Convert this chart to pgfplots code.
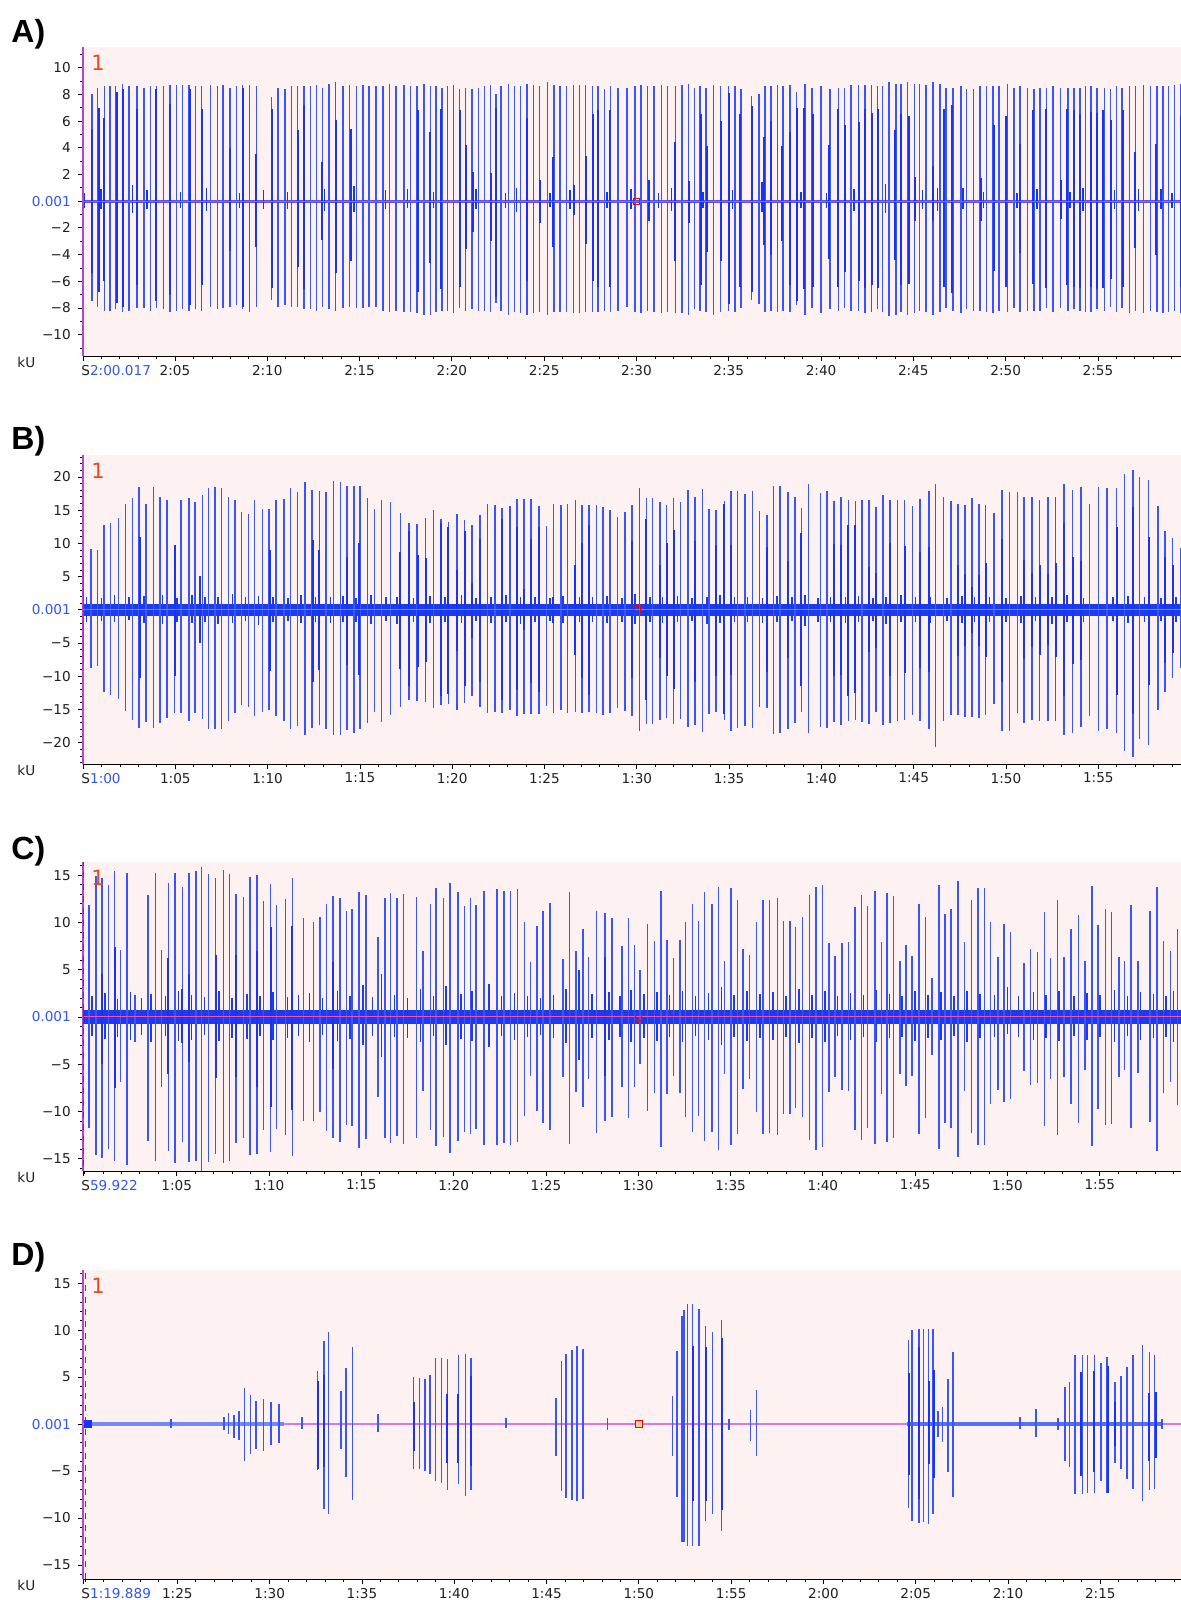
\documentclass[border=0pt]{standalone}
\usepackage{pgfplots}
\pgfplotsset{compat=1.18}
\usepackage{pgfplotstable}
\usepackage{fontspec}
\setmainfont{DejaVu Sans}
\newfontfamily\labfont{Liberation Sans}
\definecolor{pinkbg}{RGB}{253,241,241}
\definecolor{spikeT}{RGB}{55,85,250}
\definecolor{spikeD}{RGB}{22,52,242}
\definecolor{bandblue}{RGB}{28,58,238}
\definecolor{baseA}{RGB}{105,75,232}
\definecolor{magline}{RGB}{250,80,170}
\definecolor{onecol}{RGB}{240,70,30}
\definecolor{zeroblue}{RGB}{45,85,255}
\definecolor{axpurple}{RGB}{175,70,205}
\definecolor{baseD}{RGB}{215,120,230}

% ---------------- Panel A ----------------
\pgfplotstableread{
t hi lo
120.51 8.0 -7.5
120.80 8.5 -7.9
121.18 8.6 -8.2
121.49 8.6 -8.2
121.79 8.6 -8.1
122.15 8.8 -8.3
122.51 8.6 -8.2
122.93 8.6 -8.0
123.32 8.5 -8.0
123.68 8.6 -8.2
124.01 8.6 -8.0
124.37 8.6 -8.1
124.73 8.7 -8.3
125.09 8.7 -8.2
125.41 8.7 -8.1
125.76 8.7 -8.2
126.10 8.6 -8.1
126.44 8.6 -8.2
126.93 8.7 -7.9
127.29 8.6 -8.1
127.61 8.7 -8.0
127.97 8.5 -7.9
128.33 8.6 -7.8
128.66 8.7 -8.1
129.05 8.7 -8.3
129.41 8.6 -7.9
130.23 7.8 -7.4
130.59 8.5 -7.9
130.95 8.4 -7.8
131.31 8.6 -7.9
131.63 8.6 -7.9
131.99 8.6 -8.1
132.33 8.6 -8.1
132.66 8.7 -8.2
132.98 8.5 -7.9
133.34 8.8 -8.1
133.70 8.9 -8.2
134.10 8.6 -8.0
134.46 8.7 -7.9
134.82 8.6 -8.0
135.18 8.7 -8.0
135.50 8.6 -7.9
135.90 8.6 -7.9
136.26 8.6 -8.2
136.62 8.8 -8.3
136.98 8.6 -8.2
137.41 8.7 -8.3
137.77 8.6 -8.3
138.11 8.6 -8.4
138.49 8.8 -8.5
138.83 8.6 -8.5
139.15 8.6 -8.3
139.46 8.5 -8.2
139.75 8.6 -8.2
140.09 8.7 -8.4
140.41 8.4 -8.0
140.74 8.5 -8.2
141.10 8.4 -8.1
141.44 8.5 -8.2
141.76 8.6 -8.2
142.09 8.7 -8.3
142.39 8.0 -7.6
142.66 8.6 -8.2
143.08 8.8 -8.5
143.38 8.6 -8.3
143.71 8.6 -8.4
144.06 8.8 -8.5
144.42 8.7 -8.4
144.75 8.6 -8.3
145.18 8.9 -8.5
145.54 8.7 -8.3
145.86 8.6 -8.3
146.21 8.6 -8.3
146.58 8.7 -8.4
146.92 8.7 -8.4
147.25 8.7 -8.3
147.61 8.6 -8.3
147.91 8.6 -8.3
148.27 8.4 -8.2
148.60 8.6 -8.3
148.99 8.5 -8.2
149.50 8.5 -7.9
149.91 8.6 -8.3
150.25 8.7 -8.4
150.61 8.6 -8.2
150.94 8.6 -8.3
151.35 8.7 -8.4
151.69 8.6 -8.3
152.12 8.6 -8.4
152.46 8.7 -8.4
152.81 8.8 -8.5
153.15 8.5 -8.1
153.45 8.6 -8.2
153.78 8.5 -8.3
154.17 8.7 -8.5
154.55 8.6 -8.3
154.98 8.6 -8.2
155.34 8.6 -8.3
155.65 8.4 -8.0
156.24 7.9 -7.4
156.65 8.0 -7.7
156.96 8.6 -8.3
157.28 8.6 -8.2
157.64 8.7 -8.3
157.95 8.6 -8.2
158.31 8.7 -8.3
158.67 8.2 -7.8
159.14 8.8 -8.5
159.51 8.5 -8.0
160.00 8.6 -8.4
160.49 8.4 -8.1
160.94 8.5 -8.2
161.26 8.5 -8.0
161.62 8.7 -8.2
162.02 8.7 -8.2
162.38 8.7 -8.4
162.74 8.7 -8.3
163.06 8.6 -8.1
163.33 8.6 -8.3
163.69 8.9 -8.6
164.05 8.8 -8.5
164.32 8.8 -8.3
164.68 8.9 -8.5
165.05 8.8 -8.4
165.33 8.8 -8.2
165.68 8.7 -8.3
166.07 8.9 -8.5
166.43 8.8 -8.3
166.76 8.5 -8.0
167.15 8.5 -8.2
167.57 8.6 -8.4
167.89 8.4 -8.1
168.25 8.4 -8.2
168.61 8.6 -8.2
168.95 8.6 -8.3
169.32 8.6 -8.4
169.64 8.6 -8.2
170.09 8.8 -8.3
170.45 8.5 -8.0
170.77 8.6 -8.3
171.17 8.5 -8.2
171.53 8.4 -8.2
171.86 8.5 -8.2
172.22 8.5 -8.0
172.56 8.6 -8.3
172.97 8.5 -8.0
173.37 8.5 -8.2
173.69 8.5 -8.1
174.02 8.5 -8.2
174.32 8.6 -8.3
174.63 8.6 -8.3
174.95 8.5 -8.1
175.35 8.5 -8.2
175.68 8.4 -7.9
176.00 8.6 -8.3
176.31 8.5 -8.0
176.72 8.6 -8.4
177.03 8.6 -8.2
177.48 8.7 -8.4
177.84 8.6 -8.2
178.20 8.6 -8.3
178.52 8.6 -8.4
178.83 8.6 -8.3
179.14 8.7 -8.2
179.46 8.8 -8.4
}\Atall

\pgfplotstableread{
t hi lo
120.53 5.4 -5.4
120.87 7.0 -6.8
121.13 6.2 -6.0
121.85 8.2 -7.6
122.21 8.4 -7.9
122.96 6.9 -6.3
123.97 8.4 -7.5
124.75 7.3 -7.0
125.81 8.4 -7.8
126.46 6.9 -6.3
127.99 4.0 -3.7
128.69 8.5 -7.9
129.39 3.5 -3.4
130.28 6.9 -6.5
131.65 5.3 -4.9
132.01 7.2 -6.6
132.96 2.9 -2.9
133.72 6.1 -5.4
134.51 5.4 -4.5
138.17 6.8 -6.8
138.79 5.2 -4.6
139.42 6.9 -6.6
140.43 6.8 -6.4
140.76 4.2 -3.6
141.12 2.2 -2.3
142.12 2.1 -3.0
142.41 7.0 -7.2
144.08 6.2 -6.0
144.78 1.6 -1.6
145.50 3.3 -3.4
146.62 1.2 -1.0
147.27 3.4 -3.2
147.63 6.5 -6.0
147.93 6.8 -6.4
148.56 6.8 -6.4
150.67 1.6 -1.5
152.10 4.4 -4.5
152.82 1.5 -1.6
153.47 6.5 -6.3
153.80 4.1 -3.8
154.57 6.0 -4.5
155.00 8.1 -7.7
155.61 6.5 -6.4
156.26 7.1 -6.8
156.92 4.8 -3.3
157.30 6.0 -4.0
157.86 4.1 -3.0
158.31 5.2 -6.3
158.69 7.0 -7.5
159.10 7.0 -6.6
159.55 6.5 -6.4
160.45 4.2 -4.3
160.92 6.9 -6.4
161.28 5.7 -5.3
162.04 5.9 -6.0
162.36 6.9 -6.5
162.76 6.6 -6.3
163.08 6.9 -6.5
164.02 5.3 -4.4
164.34 6.5 -6.3
164.74 6.4 -6.2
165.07 1.8 -1.5
166.09 2.6 -1.5
166.67 6.9 -6.4
167.12 7.2 -6.9
168.65 1.7 -1.5
169.37 5.7 -5.2
170.02 6.4 -6.4
170.79 4.3 -3.9
171.49 6.8 -6.2
172.16 6.9 -6.5
172.99 1.6 -1.3
173.30 6.9 -6.3
173.71 6.8 -6.4
174.04 6.5 -6.5
174.65 6.7 -6.4
174.97 6.6 -6.6
175.28 6.8 -6.5
175.70 6.1 -5.8
176.33 6.8 -6.4
176.99 3.7 -3.5
178.14 4.3 -4.0
179.48 6.4 -6.4
}\Ashort

\pgfplotstableread{
t hi lo
120.10 0.6 -0.5
121.00 0.9 -0.6
122.70 1.2 -0.9
123.50 0.8 -0.6
125.30 0.7 -0.5
126.70 1.0 -0.7
128.50 0.6 -0.5
129.80 0.8 -0.6
131.10 0.7 -0.6
133.10 0.9 -0.7
134.70 1.1 -0.8
136.40 0.8 -0.6
137.60 0.9 -0.5
139.00 0.7 -0.5
141.30 0.9 -0.6
142.90 0.6 -0.5
143.50 1.0 -0.8
145.30 0.6 -0.4
146.40 0.8 -0.6
148.40 0.7 -0.5
149.70 0.9 -0.6
151.20 0.6 -0.5
151.90 1.0 -0.7
153.60 0.7 -0.5
155.20 0.8 -0.6
156.80 1.4 -0.8
158.90 0.7 -0.5
160.30 0.6 -0.5
161.80 0.9 -0.7
163.50 1.3 -0.9
165.50 0.8 -0.6
166.30 1.0 -0.7
167.70 1.0 -0.6
168.80 0.7 -0.5
170.60 0.6 -0.5
171.70 0.9 -0.6
173.50 0.7 -0.5
174.20 1.0 -0.7
175.90 0.8 -0.6
177.20 0.9 -0.7
178.40 0.9 -0.6
179.00 0.6 -0.5
}\Asmall

% ---------------- Panel B ----------------
\pgfplotstableread{
t hi lo
60.04 7.5 -8.0
60.42 9.2 -8.7
60.79 9.0 -8.5
61.15 12.8 -12.3
61.50 13.0 -12.8
61.92 13.8 -13.4
62.29 15.9 -15.2
62.67 16.9 -16.6
63.02 18.5 -17.8
63.42 15.9 -16.9
63.81 18.5 -17.8
64.17 17.0 -17.0
64.54 16.6 -16.3
64.96 9.8 -15.5
65.31 16.5 -15.5
65.73 16.8 -16.8
66.08 16.2 -15.5
66.46 17.3 -16.5
66.81 18.3 -18.0
67.15 18.5 -18.0
67.50 18.3 -18.0
67.88 17.0 -16.8
68.23 16.5 -15.5
68.58 14.7 -14.3
68.96 14.4 -14.6
69.29 16.5 -16.0
69.71 15.2 -15.3
70.08 15.2 -15.0
70.46 16.5 -16.0
70.88 16.7 -16.8
71.25 18.3 -18.0
71.63 17.8 -17.5
72.02 19.3 -18.9
72.40 18.1 -17.8
72.81 17.9 -17.4
73.17 17.8 -18.0
73.58 19.4 -18.8
73.96 19.3 -18.9
74.31 18.6 -18.1
74.69 18.6 -18.6
75.00 18.6 -18.0
75.42 16.8 -17.0
75.79 15.2 -15.3
76.17 16.6 -16.9
76.67 16.3 -15.8
77.19 14.6 -14.6
77.67 13.0 -13.5
78.10 12.9 -13.7
78.56 13.8 -13.9
79.00 15.0 -14.8
79.38 13.7 -14.3
79.79 13.2 -14.1
80.25 14.4 -15.0
80.67 13.5 -14.0
81.08 12.8 -13.0
81.50 14.2 -14.6
81.92 15.9 -15.5
82.33 15.8 -15.4
82.71 15.3 -15.5
83.13 15.7 -15.0
83.50 16.7 -16.0
83.90 16.7 -15.7
84.27 16.7 -15.7
84.69 15.7 -15.7
85.10 12.6 -14.5
85.48 15.9 -15.5
85.88 15.8 -15.0
86.25 16.0 -15.5
86.67 16.5 -15.4
87.04 15.8 -15.5
87.40 15.8 -15.4
87.81 15.8 -15.5
88.16 15.5 -15.9
88.54 15.0 -15.5
88.96 14.0 -14.7
89.37 14.7 -15.2
89.75 15.8 -16.0
90.15 18.3 -18.3
90.52 16.8 -17.2
90.86 16.8 -17.2
91.25 16.3 -16.6
91.61 15.8 -16.3
92.00 16.9 -17.2
92.38 16.3 -16.5
92.76 18.0 -17.6
93.15 17.0 -17.3
93.57 18.2 -18.4
93.92 15.1 -15.6
94.28 15.0 -15.4
94.74 16.4 -16.6
95.11 17.9 -18.3
95.45 17.9 -17.8
95.87 17.5 -17.5
96.26 17.9 -17.8
96.64 14.8 -14.6
97.04 14.3 -14.8
97.41 18.6 -18.7
97.77 18.6 -18.6
98.20 17.8 -18.0
98.56 17.0 -17.0
98.91 15.3 -15.4
99.29 18.9 -18.6
99.96 17.6 -17.7
100.29 17.9 -17.8
100.69 16.4 -16.9
101.06 17.0 -17.3
101.46 16.6 -16.7
101.84 16.4 -16.6
102.21 16.5 -16.9
102.57 16.6 -17.2
102.96 15.5 -15.3
103.34 17.3 -17.4
103.72 16.6 -17.0
104.13 16.5 -16.7
104.51 16.5 -16.6
104.93 15.7 -15.9
105.34 16.7 -16.7
105.82 17.9 -18.0
106.18 19.0 -20.6
106.60 17.0 -16.8
107.01 16.4 -15.9
107.39 15.9 -15.9
107.77 15.8 -16.1
108.16 16.9 -16.2
108.54 16.0 -16.3
108.89 15.8 -15.9
109.35 14.5 -14.2
109.79 18.1 -18.2
110.19 17.8 -18.2
110.61 17.7 -15.5
110.98 17.0 -17.0
111.40 17.0 -16.6
111.82 16.6 -16.8
112.28 17.0 -16.8
112.69 17.0 -16.8
113.13 19.0 -18.9
113.61 18.0 -18.5
114.05 18.5 -17.6
114.53 16.0 -16.0
115.01 18.5 -18.2
115.47 18.3 -18.0
115.99 18.3 -18.6
116.43 20.5 -21.3
116.87 21.0 -22.1
117.24 20.0 -19.4
117.72 19.6 -20.4
118.23 15.7 -15.0
118.60 11.9 -12.3
119.02 10.8 -10.2
119.44 9.3 -8.8
}\Btall

\pgfplotstableread{
t hi lo
63.08 10.9 -10.3
64.96 9.7 -9.9
66.35 5.1 -5.0
70.13 9.0 -9.2
72.46 10.5 -10.8
72.81 9.0 -9.0
74.31 8.0 -8.3
74.96 10.0 -9.8
77.19 8.7 -8.9
77.67 11.8 -11.5
78.13 8.3 -8.6
78.56 7.8 -7.9
79.38 13.0 -13.0
79.79 12.5 -12.6
80.25 6.0 -6.2
80.67 11.8 -11.5
81.08 4.0 -4.3
81.50 10.7 -10.9
82.71 13.7 -13.5
83.50 12.5 -12.0
83.90 3.2 -3.0
84.27 10.7 -11.0
84.69 12.5 -12.4
85.48 2.0 -2.0
86.67 6.7 -6.8
87.04 10.0 -10.2
87.40 12.7 -12.8
89.75 10.3 -10.3
90.52 13.6 -13.5
91.25 6.8 -7.2
91.61 10.0 -10.0
92.00 12.0 -11.9
93.15 10.4 -10.8
94.28 9.7 -10.0
94.74 15.9 -15.6
95.11 9.8 -9.8
97.04 9.5 -9.3
98.20 7.3 -7.2
98.91 11.6 -11.5
100.69 9.9 -10.0
101.06 9.7 -9.8
101.46 12.8 -12.9
101.84 12.7 -12.5
102.57 6.4 -6.3
102.96 5.5 -5.8
103.72 10.0 -10.0
104.51 9.6 -9.5
105.34 8.7 -8.8
105.82 9.4 -9.3
107.39 6.8 -7.0
107.77 5.4 -5.5
108.16 3.5 -3.5
108.54 5.2 -5.4
108.89 7.0 -7.1
109.79 10.7 -10.9
110.98 7.5 -7.4
111.40 5.5 -5.6
111.82 6.8 -6.8
112.28 5.4 -5.3
112.69 7.0 -7.1
113.13 13.0 -13.0
113.61 8.0 -8.2
114.05 7.4 -7.5
115.99 12.5 -12.8
116.87 15.5 -15.6
117.72 11.0 -11.3
118.60 8.0 -8.0
119.02 6.7 -6.5
}\Bshort

\pgfplotstableread{
t hi lo
60.2 2.0 -1.8
61.0 1.8 -1.7
61.7 2.2 -1.9
62.5 1.9 -1.6
63.3 2.1 -2.0
64.3 2.3 -2.1
65.1 1.8 -1.9
65.9 2.2 -2.0
66.6 1.9 -1.8
67.3 2.0 -2.2
68.1 2.4 -2.0
68.8 1.9 -1.7
69.5 2.1 -2.3
70.3 2.0 -1.9
71.1 1.8 -1.7
71.8 2.2 -2.0
72.6 2.0 -1.8
73.4 1.9 -2.0
74.1 2.1 -1.8
74.8 1.8 -1.9
75.6 2.3 -2.1
76.4 1.9 -1.7
77.0 2.0 -2.2
77.9 1.8 -1.9
78.8 2.1 -2.0
79.6 1.9 -1.8
80.5 2.2 -2.0
81.3 1.8 -1.7
82.1 2.0 -2.0
82.9 2.2 -1.9
83.7 1.9 -2.1
84.5 2.0 -1.8
85.3 1.8 -1.7
86.0 2.1 -2.0
86.9 2.0 -1.9
87.6 1.9 -1.8
88.4 2.1 -2.0
89.2 1.8 -1.9
89.9 2.4 -2.1
90.7 2.0 -1.8
91.4 1.9 -2.0
92.2 2.1 -1.9
93.0 1.8 -1.7
93.8 2.0 -2.2
94.5 2.2 -2.0
95.3 1.9 -1.8
96.0 2.0 -1.9
96.8 1.8 -2.0
97.6 2.1 -1.9
98.4 1.9 -1.7
99.1 2.2 -2.4
99.8 1.8 -1.9
100.5 2.0 -1.8
101.3 1.9 -2.0
102.0 2.1 -1.9
102.8 1.8 -1.7
103.5 2.0 -2.1
104.3 2.2 -1.9
105.1 1.9 -1.8
105.9 2.0 -2.0
106.8 1.8 -1.7
107.6 2.1 -2.0
108.3 1.9 -1.9
109.1 2.0 -1.8
110.0 1.8 -1.9
110.8 2.1 -2.0
111.6 1.9 -1.7
112.5 2.0 -2.1
113.3 2.2 -1.9
114.2 1.8 -1.8
115.0 2.0 -2.0
115.8 1.9 -1.7
116.6 2.1 -2.0
117.5 2.0 -1.9
118.4 1.8 -1.7
119.2 2.0 -1.9
}\Bsmall

% ---------------- Panel C ----------------
\pgfplotstableread{
t hi lo
60.25 11.9 -11.8
60.62 14.9 -14.6
60.95 14.7 -14.9
61.30 14.0 -14.0
61.63 15.5 -15.2
61.96 7.1 -6.9
62.31 15.2 -15.7
62.73 2.3 -2.7
63.45 12.9 -13.1
63.84 15.2 -15.2
64.17 7.1 -7.4
64.55 14.2 -14.2
64.90 15.2 -15.5
65.31 13.8 -13.2
65.66 15.2 -15.3
66.03 15.5 -15.2
66.34 15.9 -16.3
66.71 15.1 -15.3
67.11 14.7 -14.5
67.52 15.6 -15.5
67.85 15.1 -15.2
68.22 13.0 -13.3
68.62 12.7 -12.8
68.97 14.8 -14.6
69.34 15.0 -14.5
69.71 12.3 -12.0
70.08 14.1 -14.3
70.41 11.9 -11.9
70.89 12.5 -12.5
71.26 14.7 -14.7
71.86 10.5 -11.0
72.40 10.1 -11.0
72.77 10.6 -10.1
73.12 12.0 -12.1
73.47 12.8 -12.8
73.84 12.6 -13.2
74.19 11.2 -11.4
74.50 11.4 -11.5
74.88 13.2 -13.9
75.25 12.9 -12.9
75.91 8.5 -8.5
76.28 12.6 -12.8
76.57 13.1 -13.3
76.92 12.6 -12.6
77.27 13.0 -13.4
78.00 12.7 -12.8
78.35 7.0 -7.8
78.74 12.0 -12.0
79.05 13.7 -13.6
79.46 12.6 -12.7
79.81 14.2 -14.4
80.23 13.2 -13.1
80.60 11.7 -12.2
80.91 12.6 -12.4
81.22 11.8 -11.9
81.63 13.3 -13.5
82.36 13.5 -13.5
82.73 13.3 -13.3
83.08 13.3 -13.5
83.45 13.5 -13.2
83.84 10.0 -10.5
84.17 5.8 -6.2
84.52 9.6 -9.9
84.83 11.2 -11.2
85.21 12.1 -12.0
85.93 6.1 -6.3
86.28 13.2 -13.4
86.63 7.0 -7.9
87.00 9.3 -9.5
87.31 6.4 -6.6
87.73 11.2 -12.3
88.21 11.0 -11.0
88.59 10.5 -10.6
89.13 7.5 -7.4
89.46 10.5 -10.7
89.79 7.6 -7.4
90.10 5.0 -5.0
90.50 9.8 -10.0
90.87 8.0 -8.0
91.23 13.3 -13.8
91.56 8.1 -8.2
91.91 6.2 -6.2
92.27 8.1 -8.0
92.56 10.0 -10.6
92.93 12.0 -12.2
93.26 10.2 -10.5
93.60 13.2 -13.1
93.99 12.0 -12.2
94.35 13.8 -14.1
94.68 5.9 -6.0
95.03 13.6 -13.5
95.38 12.4 -12.4
95.68 7.2 -7.6
96.03 6.6 -6.6
96.40 10.1 -10.1
96.76 12.4 -12.4
97.11 12.4 -12.3
97.53 12.6 -12.5
97.88 10.2 -10.3
98.23 10.2 -10.3
98.52 9.5 -9.6
98.90 10.6 -10.6
99.27 12.9 -13.0
99.63 13.8 -14.1
99.98 14.0 -13.8
100.33 7.8 -7.9
100.67 6.5 -6.4
101.04 7.8 -7.7
101.39 7.9 -7.8
101.73 11.6 -12.0
102.08 12.9 -13.0
102.43 11.7 -11.7
102.83 13.3 -13.4
103.18 7.9 -8.2
103.47 13.1 -13.2
103.83 12.8 -12.8
104.18 5.9 -6.0
104.49 7.6 -7.3
104.84 6.5 -6.2
105.22 12.0 -12.4
105.55 10.6 -10.7
105.90 4.1 -4.0
106.28 14.0 -14.0
106.61 10.9 -11.2
106.94 11.4 -11.7
107.32 14.4 -14.8
107.67 7.9 -7.8
108.05 12.4 -12.3
108.40 13.7 -13.5
108.75 13.6 -13.5
109.09 10.1 -9.2
109.48 6.4 -7.7
109.81 9.8 -9.0
110.15 9.0 -8.7
110.89 5.7 -5.7
111.25 7.2 -7.2
111.62 6.9 -7.0
112.00 11.1 -11.5
112.33 6.2 -6.6
112.70 12.4 -12.5
113.06 6.3 -6.3
113.45 9.3 -9.2
113.85 10.8 -11.2
114.20 5.9 -5.6
114.57 13.9 -13.7
114.89 9.7 -9.7
115.32 11.4 -11.4
115.63 11.1 -11.3
116.03 6.4 -6.4
116.34 5.9 -5.6
116.69 11.8 -11.7
117.07 5.9 -5.9
117.73 11.2 -11.1
118.11 13.8 -14.2
118.44 8.0 -8.0
118.84 7.0 -6.9
119.21 9.3 -9.3
}\Ctall

\pgfplotstableread{
t hi lo
60.95 4.5 -5.0
61.63 7.4 -7.5
64.55 6.2 -6.0
65.31 3.0 -2.8
65.66 4.5 -4.8
67.11 6.6 -6.5
68.22 6.6 -6.3
69.34 7.0 -7.4
70.08 9.5 -9.5
71.26 9.6 -9.8
73.47 5.8 -5.5
88.21 6.4 -6.2
}\Cshort

\pgfplotstableread{
t hi lo
60.4 2.2 -2.0
61.1 2.5 -2.3
61.8 1.9 -2.1
62.5 2.6 -2.4
63.1 2.0 -1.9
63.6 2.4 -2.6
64.4 2.2 -2.0
65.1 2.8 -2.5
65.8 2.3 -2.4
66.5 2.1 -1.9
67.3 2.7 -2.5
68.0 2.0 -2.2
68.8 2.4 -2.3
69.5 2.2 -2.0
70.2 2.6 -2.4
71.0 2.1 -2.2
71.6 2.3 -2.0
72.2 2.5 -2.6
72.9 2.0 -1.9
73.7 2.8 -2.5
74.4 2.2 -2.3
75.1 3.4 -3.0
75.6 2.1 -2.0
76.1 4.5 -4.2
76.8 2.3 -2.1
77.5 2.0 -2.2
78.2 3.0 -2.6
78.9 2.2 -2.0
79.6 3.3 -3.0
80.4 2.4 -2.3
81.0 2.7 -2.5
81.9 3.5 -3.2
82.6 2.2 -2.0
83.3 2.5 -2.4
84.0 2.2 -2.1
84.7 2.0 -1.9
85.4 2.3 -2.2
86.1 3.0 -2.8
86.8 5.0 -4.6
87.5 2.4 -2.2
88.4 2.6 -2.4
89.0 2.2 -2.1
89.6 2.9 -2.6
90.3 2.4 -2.2
91.0 2.6 -2.5
91.7 2.3 -2.1
92.4 2.8 -2.6
93.1 2.2 -2.0
93.8 2.5 -2.4
94.5 3.2 -3.0
95.2 2.3 -2.1
95.9 2.7 -2.5
96.6 2.4 -2.2
97.3 2.6 -2.4
98.0 2.2 -2.1
98.7 3.0 -2.8
99.4 2.3 -2.2
100.1 2.8 -2.6
100.8 2.2 -2.0
101.5 2.5 -2.4
102.2 2.3 -2.1
102.9 2.9 -2.7
103.6 2.4 -2.2
104.3 2.2 -2.1
105.0 2.7 -2.5
105.7 2.3 -2.2
106.4 2.6 -2.4
107.1 2.2 -2.0
107.8 2.8 -2.6
108.5 2.4 -2.2
109.3 2.3 -2.1
110.0 3.2 -1.8
110.6 2.2 -2.1
111.4 2.6 -2.4
112.1 2.3 -2.2
112.8 2.7 -2.5
113.6 2.2 -2.0
114.3 2.5 -2.4
115.0 2.3 -2.1
115.8 2.9 -2.7
116.5 2.2 -2.0
117.2 2.6 -2.4
117.9 2.4 -2.2
118.6 2.2 -2.1
119.0 2.8 -2.6
}\Csmall

% ---------------- Panel D ----------------
\pgfplotstableread{
t hi lo
84.65 0.5 -0.4
87.52 0.8 -0.6
87.77 1.2 -1.1
88.06 1.0 -1.5
88.33 1.4 -1.7
88.64 3.8 -3.9
88.95 3.1 -3.2
89.27 2.5 -2.7
89.68 2.7 -2.9
90.06 2.4 -2.2
90.52 2.1 -2.0
91.76 0.8 -0.5
92.60 5.7 -4.9
92.95 8.8 -9.0
93.18 9.8 -9.6
93.87 3.5 -2.7
94.14 6.0 -5.6
94.49 8.2 -8.1
95.88 1.1 -0.8
97.80 5.0 -4.8
98.13 4.9 -4.8
98.42 4.8 -5.0
98.69 5.2 -5.3
98.99 7.0 -6.1
99.30 7.0 -6.3
99.63 6.9 -7.0
100.23 7.3 -6.4
100.61 7.5 -7.7
100.92 7.0 -7.0
102.79 0.6 -0.4
105.50 2.8 -3.4
105.81 6.7 -7.1
106.06 7.5 -7.9
106.37 7.9 -8.1
106.66 8.3 -8.2
106.98 8.0 -8.0
108.30 0.6 -0.6
111.81 3.0 -3.4
112.08 7.8 -7.8
112.35 11.5 -12.6
112.45 12.1 -12.6
112.64 12.8 -13.0
112.91 12.8 -13.0
113.26 12.3 -13.0
113.62 10.4 -10.3
113.99 9.8 -9.6
114.49 11.1 -11.4
114.89 0.5 -0.6
116.05 1.5 -1.8
116.38 3.6 -3.4
124.62 8.9 -8.9
124.80 10.0 -10.3
125.18 10.1 -10.5
125.43 10.1 -10.4
125.70 10.1 -10.6
125.93 10.1 -9.6
126.20 1.4 -1.4
126.44 1.8 -1.9
126.74 4.8 -5.1
127.03 7.7 -7.8
130.64 0.7 -0.5
131.52 1.6 -1.4
132.70 0.6 -0.6
133.08 3.9 -3.9
133.33 4.5 -4.6
133.62 7.3 -7.4
134.03 7.4 -7.4
134.30 7.4 -7.3
134.68 7.3 -7.3
135.03 6.5 -6.1
135.36 7.1 -7.3
135.78 4.5 -4.1
136.13 5.1 -4.8
136.45 6.1 -5.8
136.76 7.3 -6.9
137.28 8.4 -8.2
137.67 7.7 -7.0
137.94 7.4 -6.9
138.34 0.5 -0.5
}\Dtall

\pgfplotstableread{
t hi lo
92.60 4.6 -4.8
92.95 5.2 -4.6
97.80 2.3 -2.9
99.63 3.2 -4.1
100.23 3.2 -4.2
100.92 5.1 -4.5
112.91 8.3 -8.2
113.66 8.2 -8.2
114.53 9.2 -9.1
124.62 5.4 -5.4
125.18 8.2 -8.0
125.70 4.6 -4.3
125.99 5.8 -5.7
133.93 5.5 -5.5
134.64 5.6 -5.1
135.40 6.2 -7.3
135.78 2.3 -2.3
137.61 3.3 -3.9
137.99 3.4 -3.6
}\Dshort

\newcommand{\spikes}[3]{%
  \addplot[ycomb, draw=#2, line width=#3] table[x=t,y=hi]{#1};
  \addplot[ycomb, draw=#2, line width=#3] table[x=t,y=lo]{#1};
}

\pgfplotsset{panel/.style={
  scale only axis, width=549pt, height=154.5pt, anchor=south west,
  axis x line*=bottom, axis y line*=left,
  x axis line style={-, draw=black, line width=0.5pt},
  y axis line style={-, draw=axpurple, line width=0.9pt},
  axis background/.style={fill=pinkbg},
  tick align=outside,
  major tick length=2.6pt, minor tick length=1.4pt,
  every tick/.style={black, line width=0.4pt},
  tick label style={font=\fontsize{6.8}{8}\selectfont, text=black!88},
  xticklabel style={yshift=1.6pt},
  extra x tick style={tick label style={anchor=north west, xshift=-4.3pt}},
  clip mode=individual,
}}

\newcommand{\panelnotes}{%
  \node[anchor=north west, inner sep=0pt, xshift=4pt, yshift=-3.8pt, text=onecol,
        font=\fontsize{10.5}{10.5}\selectfont] at (rel axis cs:0,1) {1};
  \node[anchor=base west, inner sep=0pt, xshift=-33pt, yshift=-5.5pt,
        font=\fontsize{6.8}{8}\selectfont, text=black!88] at (rel axis cs:0,0) {kU};
}

\begin{document}
\begin{tikzpicture}
\useasboundingbox (0,0) rectangle (590.5pt,-800pt);

\node[anchor=base west, inner sep=0pt, font=\labfont\bfseries\fontsize{16}{16}\selectfont] at (5.5pt,-21.5pt) {A)};
\node[anchor=base west, inner sep=0pt, font=\labfont\bfseries\fontsize{16}{16}\selectfont] at (5.5pt,-224.5pt) {B)};
\node[anchor=base west, inner sep=0pt, font=\labfont\bfseries\fontsize{16}{16}\selectfont] at (5.5pt,-429.5pt) {C)};
\node[anchor=base west, inner sep=0pt, font=\labfont\bfseries\fontsize{16}{16}\selectfont] at (5.5pt,-632.5pt) {D)};

% ===== A =====
\begin{axis}[panel, at={(41.5pt,-178pt)},
  xmin=120.017, xmax=179.5, ymin=-11.6, ymax=11.55,
  xtick={125,130,...,175},
  xticklabels={2:05,2:10,2:15,2:20,2:25,2:30,2:35,2:40,2:45,2:50,2:55},
  minor xtick={121,122,...,179},
  extra x ticks={120.017},
  extra x tick labels={S{\color{zeroblue}2:00.017}},
  ytick={-10,-8,-6,-4,-2,0,2,4,6,8,10},
  yticklabels={−10,−8,−6,−4,−2,{\color{zeroblue}0.001},2,4,6,8,10},
  minor ytick={-11,-9,...,11},
]
\addplot[baseA, line width=1.6pt] coordinates {(120,0) (180,0)};
\spikes{\Asmall}{spikeD}{0.8pt}
\spikes{\Atall}{spikeT}{0.75pt}
\spikes{\Ashort}{spikeD}{1.0pt}
\addplot[magline!70!baseA, line width=0.4pt] coordinates {(120,0) (180,0)};
\addplot[only marks, mark=square, mark size=1.6pt, draw=red, line width=0.35pt] coordinates {(150,0)};
\panelnotes
\end{axis}

% ===== B =====
\begin{axis}[panel, at={(41.5pt,-382pt)},
  xmin=60, xmax=119.48, ymin=-23.2, ymax=23.3,
  xtick={65,70,...,115},
  xticklabels={1:05,1:10,1:15,1:20,1:25,1:30,1:35,1:40,1:45,1:50,1:55},
  minor xtick={61,62,...,119},
  extra x ticks={60},
  extra x tick labels={S{\color{zeroblue}1:00}},
  ytick={-20,-15,-10,-5,0,5,10,15,20},
  yticklabels={−20,−15,−10,−5,{\color{zeroblue}0.001},5,10,15,20},
  minor ytick={-23,-22,...,23},
]
\addplot[bandblue, line width=6.2pt] coordinates {(60,0) (120,0)};
\spikes{\Bsmall}{bandblue}{0.8pt}
\spikes{\Btall}{spikeT}{0.75pt}
\spikes{\Bshort}{spikeD}{1.0pt}
\addplot[magline, line width=0.5pt] coordinates {(60,0) (120,0)};
\addplot[only marks, mark=square, mark size=1.6pt, draw=red, line width=0.35pt] coordinates {(90,0)};
\panelnotes
\end{axis}

% ===== C =====
\begin{axis}[panel, at={(41.5pt,-585.5pt)},
  xmin=59.922, xmax=119.40, ymin=-16.3, ymax=16.4,
  xtick={65,70,...,115},
  xticklabels={1:05,1:10,1:15,1:20,1:25,1:30,1:35,1:40,1:45,1:50,1:55},
  minor xtick={60,61,...,119},
  extra x ticks={59.922},
  extra x tick labels={S{\color{zeroblue}59.922}},
  ytick={-15,-10,-5,0,5,10,15},
  yticklabels={−15,−10,−5,{\color{zeroblue}0.001},5,10,15},
  minor ytick={-16,-15,...,16},
]
\addplot[bandblue, line width=6.8pt] coordinates {(59.9,0) (120,0)};
\spikes{\Csmall}{bandblue}{0.8pt}
\spikes{\Ctall}{spikeT}{0.75pt}
\spikes{\Cshort}{spikeD}{1.0pt}
\addplot[magline, line width=0.5pt] coordinates {(59.9,0) (120,0)};
\addplot[red, dashed, line width=0.6pt] coordinates {(59.96,-17) (59.96,17)};
\addplot[only marks, mark=square, mark size=1.6pt, draw=red, line width=0.35pt] coordinates {(90,0)};
\panelnotes
\end{axis}

% ===== D =====
\begin{axis}[panel, at={(41.5pt,-789.5pt)},
  xmin=79.889, xmax=139.37, ymin=-16.5, ymax=16.4,
  xtick={85,90,...,135},
  xticklabels={1:25,1:30,1:35,1:40,1:45,1:50,1:55,2:00,2:05,2:10,2:15},
  minor xtick={80,81,...,139},
  extra x ticks={79.889},
  extra x tick labels={S{\color{zeroblue}1:19.889}},
  ytick={-15,-10,-5,0,5,10,15},
  yticklabels={−15,−10,−5,{\color{zeroblue}0.001},5,10,15},
  minor ytick={-16,-15,...,16},
]
\addplot[baseD, line width=1.1pt] coordinates {(79.889,0) (139.4,0)};
\addplot[spikeT!70, line width=1.6pt] coordinates {(80.3,0) (90.8,0)};
\addplot[spikeD, line width=4pt] coordinates {(79.95,0) (80.35,0)};
\addplot[spikeT!85, line width=2.4pt] coordinates {(124.5,0) (138.3,0)};
\spikes{\Dtall}{spikeT}{0.75pt}
\spikes{\Dshort}{spikeD}{1.0pt}
\addplot[red, dashed, line width=0.5pt] coordinates {(80.0,-16.5) (80.0,16.4)};
\addplot[only marks, mark=square*, mark size=1.6pt, draw=red, fill=orange!40, line width=0.35pt] coordinates {(110,0)};
\panelnotes
\end{axis}
\end{tikzpicture}
\end{document}
